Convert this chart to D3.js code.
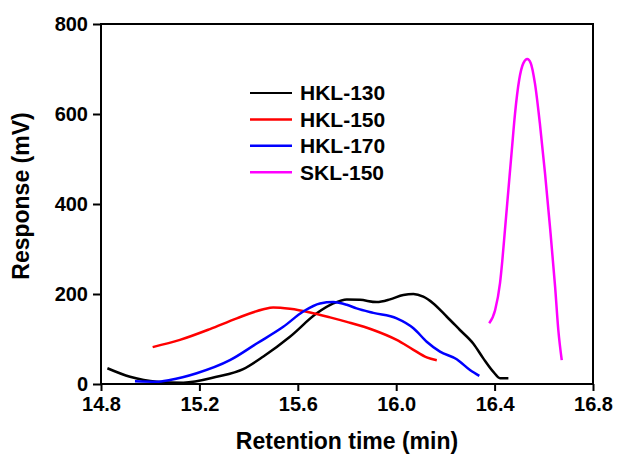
<!DOCTYPE html>
<html>
<head>
<meta charset="utf-8">
<script src="https://cdn.jsdelivr.net/npm/d3@7"></script>
<style>
  html, body { margin: 0; padding: 0; background: #fff; }
  svg { display: block; }
  text { font-family: "Liberation Sans", Arial, sans-serif; font-weight: bold; fill: #000; }
</style>
</head>
<body>
<svg id="chart" width="618" height="454"></svg>
<script>
// GPC chromatograms: retention time (min) vs detector response (mV)
const hkl130Time = [14.826, 14.918, 15.026, 15.135, 15.270, 15.378, 15.460, 15.568, 15.677, 15.744, 15.799, 15.853, 15.921, 15.975, 16.029, 16.070, 16.110, 16.151, 16.205, 16.259, 16.313, 16.354, 16.395, 16.422, 16.456];
const hkl130Resp = [35, 16, 5, 3, 16, 33, 61, 105, 157, 179, 188, 187, 182, 188, 198, 200, 194, 179, 150, 120, 90, 57, 27, 13, 13];

const hkl150Time = [15.010, 15.121, 15.243, 15.352, 15.460, 15.500, 15.568, 15.650, 15.731, 15.799, 15.907, 16.002, 16.070, 16.124, 16.165];
const hkl150Resp = [82, 98, 122, 146, 166, 170, 167, 159, 148, 138, 120, 98, 76, 59, 53];

const hkl170Time = [14.938, 15.026, 15.080, 15.189, 15.324, 15.433, 15.541, 15.622, 15.690, 15.744, 15.799, 15.839, 15.907, 16.002, 16.070, 16.124, 16.178, 16.246, 16.300, 16.338];
const hkl170Resp = [6, 5, 9, 24, 53, 90, 127, 161, 179, 182, 176, 168, 158, 146, 124, 94, 72, 55, 31, 18];

const skl150Time = [16.378, 16.402, 16.422, 16.431, 16.442, 16.456, 16.470, 16.483, 16.500, 16.517, 16.533, 16.547, 16.564, 16.584, 16.605, 16.625, 16.646, 16.659, 16.673];
const skl150Resp = [135, 164, 224, 272, 342, 431, 520, 601, 676, 713, 722, 713, 668, 579, 468, 350, 216, 120, 53];

const seriesNames = ["HKL-130", "HKL-150", "HKL-170", "SKL-150"];
const seriesColors = ["#000000", "#ff0000", "#0000ff", "#ff00ff"];
const xTicks = [14.8, 15.2, 15.6, 16.0, 16.4, 16.8];
const yTicks = [0, 200, 400, 600, 800];

const series = [
  { name: seriesNames[0], color: seriesColors[0], t: hkl130Time, v: hkl130Resp },
  { name: seriesNames[1], color: seriesColors[1], t: hkl150Time, v: hkl150Resp },
  { name: seriesNames[2], color: seriesColors[2], t: hkl170Time, v: hkl170Resp },
  { name: seriesNames[3], color: seriesColors[3], t: skl150Time, v: skl150Resp }
];

const svg = d3.select("#chart");
const plot = { left: 101, right: 593, top: 24, bottom: 384 };

const x = d3.scaleLinear().domain([14.8, 16.8]).range([plot.left, plot.right]);
const y = d3.scaleLinear().domain([0, 800]).range([plot.bottom, plot.top]);

// axes
const xAxis = svg.append("g")
  .attr("transform", `translate(0,${plot.bottom})`)
  .call(d3.axisBottom(x).tickValues(xTicks).tickFormat(d3.format(".1f")).tickSize(7).tickPadding(6));
const yAxis = svg.append("g")
  .attr("transform", `translate(${plot.left},0)`)
  .call(d3.axisLeft(y).tickValues(yTicks).tickSize(8).tickPadding(5));

[xAxis, yAxis].forEach(g => {
  g.select(".domain").remove();
  g.selectAll("line").attr("stroke", "#000").attr("stroke-width", 2);
  g.selectAll("text").style("font-size", "20px").attr("fill", "#000");
});

// frame
svg.append("rect")
  .attr("x", plot.left).attr("y", plot.top)
  .attr("width", plot.right - plot.left).attr("height", plot.bottom - plot.top)
  .attr("fill", "none").attr("stroke", "#000").attr("stroke-width", 2);

// curves
const line = d3.line()
  .x(d => x(d[0]))
  .y(d => y(d[1]))
  .curve(d3.curveMonotoneX);

series.forEach(s => {
  svg.append("path")
    .datum(d3.zip(s.t, s.v))
    .attr("d", line)
    .attr("fill", "none")
    .attr("stroke", s.color)
    .attr("stroke-width", 2.5)
    .attr("stroke-linejoin", "round")
    .attr("stroke-linecap", "butt");
});

// legend
const legend = svg.append("g").attr("transform", "translate(250,93)");
series.forEach((s, i) => {
  const row = legend.append("g").attr("transform", `translate(0,${i * 26.4})`);
  row.append("line")
    .attr("x1", 0).attr("x2", 42).attr("y1", 0).attr("y2", 0)
    .attr("stroke", s.color).attr("stroke-width", i === 0 ? 2 : 2.5);
  row.append("text")
    .attr("x", 50).attr("y", 0).attr("dy", "0.35em")
    .style("font-size", "21px")
    .text(s.name);
});

// axis titles
svg.append("text")
  .attr("x", (plot.left + plot.right) / 2).attr("y", 449)
  .attr("text-anchor", "middle")
  .style("font-size", "23px")
  .text("Retention time (min)");

svg.append("text")
  .attr("transform", "translate(29,196) rotate(-90)")
  .attr("text-anchor", "middle")
  .style("font-size", "23px")
  .text("Response (mV)");
</script>
</body>
</html>
